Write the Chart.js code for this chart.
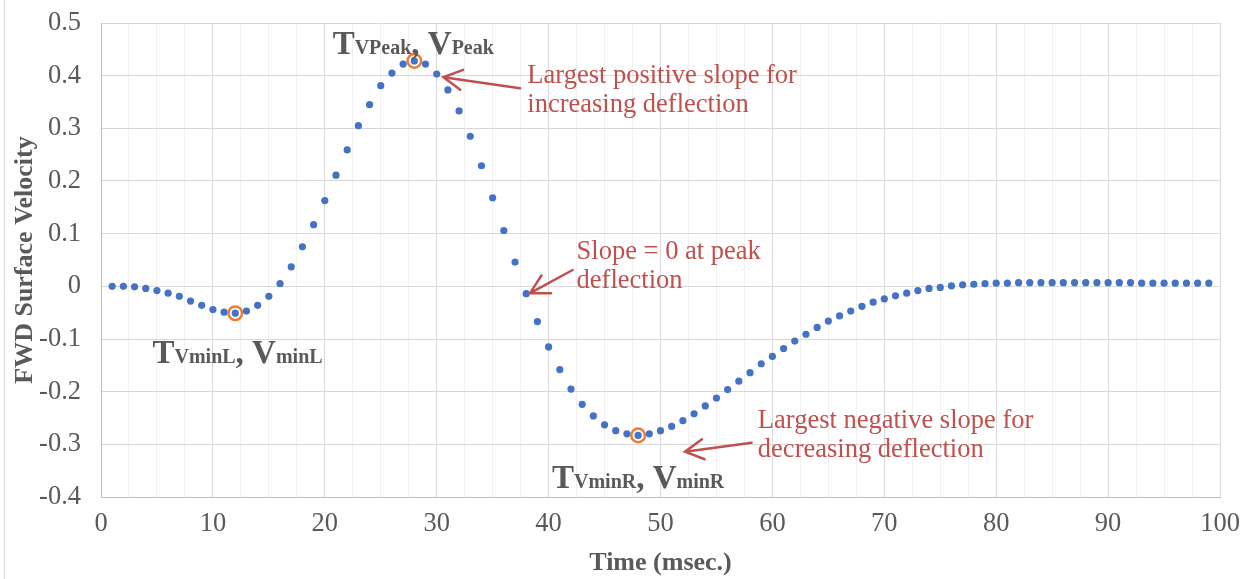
<!DOCTYPE html>
<html lang="en">
<head>
  <meta charset="UTF-8" />
  <title>FWD Surface Velocity</title>
  <script src="https://cdn.jsdelivr.net/npm/chart.js"></script>
  <style>
    html, body { margin: 0; padding: 0; background: #fff; }
    #wrap { width: 1247px; height: 579px; }
  </style>
</head>
<body>
  <div id="wrap"><canvas id="fwd" width="1247" height="579"></canvas></div>

  <script>
    // sample times (msec.)
    const timeMs = [
      1, 2, 3, 4, 5, 6, 7, 8, 9, 10, 11, 12, 13, 14, 15, 16, 17, 18, 19, 20,
      21, 22, 23, 24, 25, 26, 27, 28, 29, 30, 31, 32, 33, 34, 35, 36, 37, 38, 39, 40,
      41, 42, 43, 44, 45, 46, 47, 48, 49, 50, 51, 52, 53, 54, 55, 56, 57, 58, 59, 60,
      61, 62, 63, 64, 65, 66, 67, 68, 69, 70, 71, 72, 73, 74, 75, 76, 77, 78, 79, 80,
      81, 82, 83, 84, 85, 86, 87, 88, 89, 90, 91, 92, 93, 94, 95, 96, 97, 98, 99
    ];

    // surface velocity at each sample
    const velocity = [
      0.000, 0.000, -0.001, -0.004, -0.008, -0.013, -0.019, -0.028, -0.036, -0.044,
      -0.049, -0.051, -0.047, -0.036, -0.019, 0.005, 0.037, 0.075, 0.117, 0.163,
      0.211, 0.259, 0.305, 0.345, 0.381, 0.405, 0.422, 0.428, 0.422, 0.403,
      0.373, 0.333, 0.285, 0.229, 0.168, 0.106, 0.046, -0.014, -0.067, -0.115,
      -0.158, -0.195, -0.224, -0.246, -0.263, -0.274, -0.280, -0.283, -0.280, -0.274,
      -0.266, -0.255, -0.242, -0.227, -0.212, -0.196, -0.180, -0.164, -0.147, -0.133,
      -0.118, -0.104, -0.091, -0.078, -0.066, -0.056, -0.047, -0.038, -0.030, -0.024,
      -0.018, -0.013, -0.008, -0.004, -0.002, 0.001, 0.003, 0.004, 0.005, 0.006,
      0.006, 0.007, 0.007, 0.007, 0.007, 0.007, 0.007, 0.007, 0.007, 0.007,
      0.007, 0.007, 0.006, 0.006, 0.006, 0.006, 0.006, 0.006, 0.006
    ];

    // left minimum, peak, right minimum
    const keyTimes = [12, 28, 48];

    const xTickLabels = ['0', '10', '20', '30', '40', '50', '60', '70', '80', '90', '100'];
    const yTickLabels = ['-0.4', '-0.3', '-0.2', '-0.1', '0', '0.1', '0.2', '0.3', '0.4', '0.5'];

    const GREY = '#595959';
    const RED = '#C0504D';
    const SERIF = '"Liberation Serif", "Times New Roman", serif';

    const points = timeMs.map((t, i) => ({ x: t, y: velocity[i] }));
    const keyPoints = keyTimes.map(t => ({ x: t, y: velocity[timeMs.indexOf(t)] }));

    // labels with subscripts: [text, isSubscript]
    const keyLabels = [
      { x: 20.7, y: 0.442, parts: [['T', 0], ['VPeak', 1], [', V', 0], ['Peak', 1]] },
      { x: 4.6, y: -0.146, parts: [['T', 0], ['VminL', 1], [', V', 0], ['minL', 1]] },
      { x: 40.3, y: -0.383, parts: [['T', 0], ['VminR', 1], [', V', 0], ['minR', 1]] }
    ];

    const notes = [
      { x: 38.1, y: 0.387, lines: ['Largest positive slope for', 'increasing deflection'] },
      { x: 42.5, y: 0.052, lines: ['Slope = 0 at peak', 'deflection'] },
      { x: 58.7, y: -0.269, lines: ['Largest negative slope for', 'decreasing deflection'] }
    ];

    const arrows = [
      { from: [37.45, 0.376], to: [30.6, 0.397] },
      { from: [42.15, 0.031], to: [38.34, -0.013] },
      { from: [58.14, -0.297], to: [52.19, -0.314] }
    ];

    const annotate = {
      id: 'annotate',
      beforeDraw(chart) {
        const { ctx, width, height } = chart;
        ctx.save();
        ctx.fillStyle = '#fff';
        ctx.fillRect(0, 0, width, height);
        ctx.strokeStyle = '#D9D9D9';
        ctx.lineWidth = 1;
        ctx.beginPath();
        ctx.moveTo(4.5, 0);
        ctx.lineTo(4.5, height);
        ctx.stroke();
        ctx.restore();
      },
      afterDatasetsDraw(chart) {
        const { ctx, scales: { x, y } } = chart;
        ctx.save();

        // T/V labels
        ctx.fillStyle = GREY;
        ctx.textBaseline = 'alphabetic';
        keyLabels.forEach(lab => {
          let px = x.getPixelForValue(lab.x);
          const py = y.getPixelForValue(lab.y);
          lab.parts.forEach(([txt, sub]) => {
            ctx.font = sub ? `bold 20px ${SERIF}` : `bold 33px ${SERIF}`;
            ctx.fillText(txt, px, py);
            px += ctx.measureText(txt).width;
          });
        });

        // red notes
        ctx.fillStyle = RED;
        ctx.font = `26.5px ${SERIF}`;
        notes.forEach(n => {
          const px = x.getPixelForValue(n.x);
          const py = y.getPixelForValue(n.y);
          n.lines.forEach((line, i) => ctx.fillText(line, px, py + i * 29));
        });

        // arrows
        ctx.strokeStyle = RED;
        ctx.lineWidth = 2.5;
        ctx.lineCap = 'round';
        arrows.forEach(a => {
          const x1 = x.getPixelForValue(a.from[0]), y1 = y.getPixelForValue(a.from[1]);
          const x2 = x.getPixelForValue(a.to[0]), y2 = y.getPixelForValue(a.to[1]);
          const ang = Math.atan2(y2 - y1, x2 - x1);
          const head = 21, spread = 0.5;
          ctx.beginPath();
          ctx.moveTo(x1, y1);
          ctx.lineTo(x2, y2);
          ctx.moveTo(x2 - head * Math.cos(ang - spread), y2 - head * Math.sin(ang - spread));
          ctx.lineTo(x2, y2);
          ctx.lineTo(x2 - head * Math.cos(ang + spread), y2 - head * Math.sin(ang + spread));
          ctx.stroke();
        });

        ctx.restore();
      }
    };

    new Chart(document.getElementById('fwd'), {
      type: 'scatter',
      data: {
        datasets: [
          {
            data: points,
            pointRadius: 3.6,
            pointBackgroundColor: '#4472C4',
            pointBorderWidth: 0
          },
          {
            data: keyPoints,
            pointRadius: 6.8,
            pointBackgroundColor: 'rgba(0,0,0,0)',
            pointBorderColor: '#ED7D31',
            pointBorderWidth: 2.5
          }
        ]
      },
      options: {
        responsive: false,
        animation: false,
        devicePixelRatio: 1,
        layout: { padding: { left: 0, top: 23, right: 27, bottom: 0 } },
        plugins: { legend: { display: false }, tooltip: { enabled: false } },
        scales: {
          x: {
            type: 'linear',
            min: 0,
            max: 100,
            afterFit: s => { s.height = 82; s.paddingLeft = 0; s.paddingRight = 0; },
            border: { color: '#BFBFBF', width: 1 },
            grid: {
              drawTicks: false,
              color: c => (c.tick && c.tick.value % 10 === 0) ? '#D9D9D9' : '#F0F0F0'
            },
            ticks: {
              stepSize: 2.5,
              autoSkip: false,
              maxRotation: 0,
              padding: 11,
              color: GREY,
              font: { family: SERIF, size: 26.5 },
              callback: v => xTickLabels.includes(String(v)) ? String(v) : ''
            },
            title: {
              display: true,
              text: 'Time (msec.)',
              color: GREY,
              padding: { top: 0, bottom: 0 },
              font: { family: SERIF, size: 26, weight: 'bold' }
            }
          },
          y: {
            min: -0.4,
            max: 0.5,
            afterFit: s => { s.width = 101; s.paddingTop = 0; s.paddingBottom = 0; },
            border: { color: '#BFBFBF', width: 1 },
            grid: { drawTicks: false, color: '#D9D9D9' },
            ticks: {
              stepSize: 0.1,
              padding: 20,
              color: GREY,
              font: { family: SERIF, size: 26.5 },
              callback: v => yTickLabels[Math.round((v + 0.4) * 10)]
            },
            title: {
              display: true,
              text: 'FWD Surface Velocity',
              color: GREY,
              padding: { top: 10, bottom: 0 },
              font: { family: SERIF, size: 26, weight: 'bold' }
            }
          }
        }
      },
      plugins: [annotate]
    });
  </script>
</body>
</html>
